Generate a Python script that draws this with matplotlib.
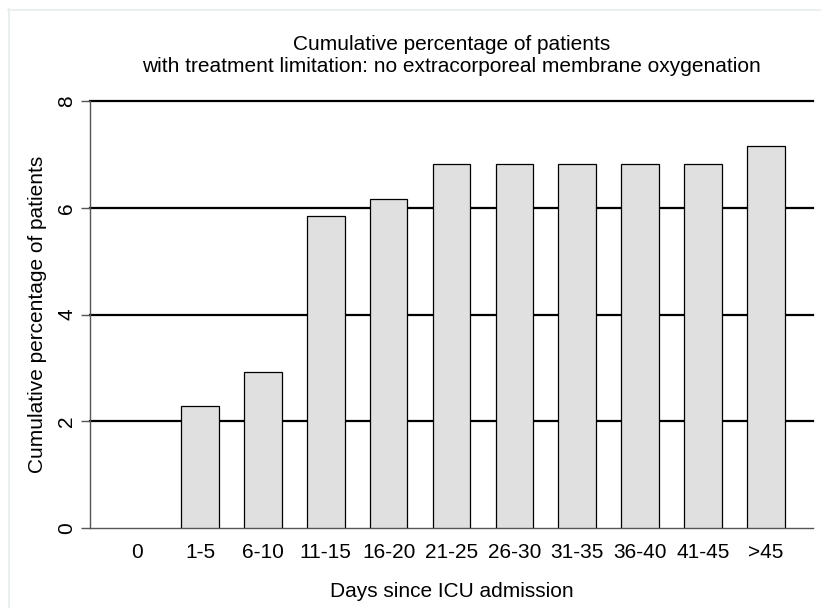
import numpy as np
import matplotlib
matplotlib.use("Agg")
import matplotlib.pyplot as plt
from matplotlib.lines import Line2D

plt.rcParams["font.family"] = ["Liberation Sans", "DejaVu Sans"]

# data
categories = ["0", "1-5", "6-10", "11-15", "16-20", "21-25",
              "26-30", "31-35", "36-40", "41-45", ">45"]
cum_pct = [0.0, 2.28, 2.92, 5.85, 6.17, 6.82, 6.82, 6.82, 6.82, 6.82, 7.15]
y_ticks = [0, 2, 4, 6, 8]

W, H = 821, 608
fig = plt.figure(figsize=(W / 100, H / 100), dpi=100)

# plot region in pixel terms: x 90..813, y(0)=528, y(8)=101
ax = fig.add_axes([90 / W, 1 - 528 / H, (813 - 90) / W, (528 - 101) / H])
ax.set_xlim(-0.75, 10.75)
ax.set_ylim(0, 8)

x = np.arange(len(categories))

# horizontal reference lines
for yv in y_ticks[1:]:
    ax.axhline(yv, color="black", linewidth=1.6, zorder=1, clip_on=False)
ax.axhline(0, color="#555555", linewidth=1.0, zorder=1, clip_on=False)

edges = ["black" if v > 0 else "none" for v in cum_pct]
ax.bar(x, cum_pct, width=0.6, color="#e0e0e0", edgecolor=edges,
       linewidth=0.9, zorder=2)

for s in ["top", "right", "bottom"]:
    ax.spines[s].set_visible(False)
ax.spines["left"].set_bounds(0, 8)
ax.spines["left"].set_color("#555555")
ax.spines["left"].set_linewidth(1.0)

ax.set_yticks(y_ticks)
ax.set_yticklabels([str(v) for v in y_ticks], rotation=90, va="center",
                   fontsize=15)
ax.tick_params(axis="y", length=6.5, width=1.0, color="#555555", pad=3.5)
ax.set_xticks(x)
ax.set_xticklabels(categories, fontsize=15)
ax.tick_params(axis="x", length=0, pad=10.5)

ax.set_ylabel("Cumulative percentage of patients", fontsize=15, labelpad=7)
ax.set_xlabel("Days since ICU admission", fontsize=15, labelpad=14.5)

cx = (90 + 813) / 2 / W
fig.text(cx, 1 - 45 / H, "Cumulative percentage of patients",
         ha="center", va="center", fontsize=15)
fig.text(cx, 1 - 66 / H,
         "with treatment limitation: no extracorporeal membrane oxygenation",
         ha="center", va="center", fontsize=15)

# faint outer frame (left and top edges visible)
fig.add_artist(Line2D([8.5 / W, 8.5 / W], [0, 1 - 9 / H], transform=fig.transFigure,
                      color="#e6ecec", linewidth=1.2))
fig.add_artist(Line2D([8 / W, 1], [1 - 9.5 / H, 1 - 9.5 / H], transform=fig.transFigure,
                      color="#e6ecec", linewidth=1.2))

fig.savefig("out.png", dpi=100)
